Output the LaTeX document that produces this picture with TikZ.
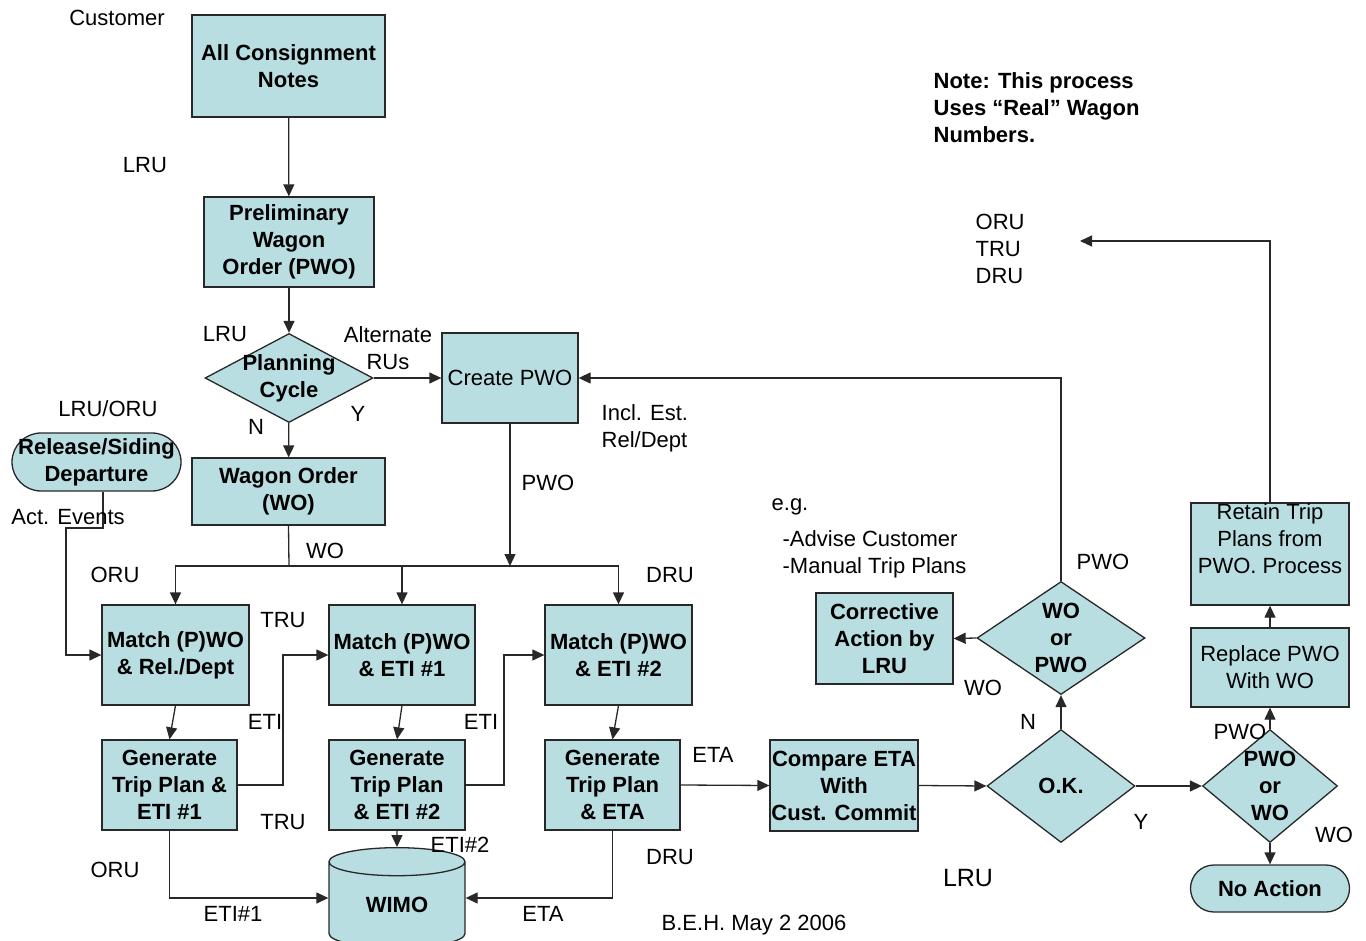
\documentclass[tikz,border=0pt]{standalone}
\usepackage{fontspec}
\setmainfont{Liberation Sans}
\usetikzlibrary{shapes.geometric,arrows.meta}
\definecolor{boxfill}{RGB}{184,222,225}
\definecolor{edge}{RGB}{40,40,40}
\newcommand\wfont{\fontsize{11}{13.5}\selectfont}
\tikzset{every picture/.style={line width=0.65pt}}
\tikzset{
  box/.style={draw=edge, fill=boxfill, align=center, inner sep=0pt, font=\wfont\bfseries},
  plainbox/.style={box, font=\wfont},
  endbox/.style={box, rounded corners=#1},
  decision/.style={draw=edge, fill=boxfill, diamond, inner sep=0pt},
  dtext/.style={align=center, inner sep=0pt, font=\wfont\bfseries},
  lbl/.style={inner sep=0pt, align=left, font=\wfont},
  flow/.style={draw=edge, -{Triangle[length=6pt,width=5.5pt]}},
  wire/.style={draw=edge}
}

\begin{document}
\begin{tikzpicture}[x=0.5pt,y=-0.5pt]
    \useasboundingbox (0,0) rectangle (1366,941);
    \node[box, minimum width=96.5pt, minimum height=51pt] (acn) at (288.5,66) {All Consignment\\Notes};
    \node[box, minimum width=85pt, minimum height=45pt] (pwo) at (289,242) {Preliminary\\Wagon\\Order (PWO)};
    \node[decision, minimum width=84pt, minimum height=44.5pt, label={[dtext]center:Planning\\Cycle}] (plan) at (289,378) {};
    \node[plainbox, minimum width=68pt, minimum height=45pt] (cpwo) at (510,378) {Create PWO};
    \node[box, minimum width=96.5pt, minimum height=33.5pt] (wo) at (288.5,491.5) {Wagon Order\\(WO)};
    \node[endbox=14.5pt, minimum width=84.5pt, minimum height=29pt] (rel) at (96.5,462) {Release/Siding\\Departure};
    \node[box, minimum width=73.5pt, minimum height=50pt] (m1) at (175.5,655) {Match (P)WO\\\& Rel./Dept};
    \node[box, minimum width=73pt, minimum height=50pt] (m2) at (402,655) {Match (P)WO\\\& ETI \#1};
    \node[box, minimum width=73.5pt, minimum height=50pt] (m3) at (618.5,655) {Match (P)WO\\\& ETI \#2};
    \node[box, minimum width=67.5pt, minimum height=45pt] (g1) at (169.5,785) {Generate\\Trip Plan \&\\ETI \#1};
    \node[box, minimum width=68pt, minimum height=45pt] (g2) at (397,785) {Generate\\Trip Plan\\\& ETI \#2};
    \node[box, minimum width=67.5pt, minimum height=45pt] (g3) at (612.5,785) {Generate\\Trip Plan\\\& ETA};
    \node[box, cylinder, shape border rotate=90, aspect=0.45, minimum width=68pt, minimum height=50pt] (wimo) at (397,905) {WIMO};
    \node[box, minimum width=74pt, minimum height=45.5pt] (cmp) at (844,785.5) {Compare ETA\\With\\Cust. Commit};
    \node[decision, minimum width=74pt, minimum height=56.5pt, label={[dtext]center:O.K.}] (ok) at (1061,786) {};
    \node[decision, minimum width=84pt, minimum height=56.5pt, label={[dtext]center:WO\\or\\PWO}] (wop) at (1061,638) {};
    \node[box, minimum width=68.5pt, minimum height=45.5pt] (corr) at (884.5,638.5) {Corrective\\Action by\\LRU};
    \node[decision, minimum width=67.5pt, minimum height=56.5pt, label={[dtext]center:PWO\\or\\WO}] (pow) at (1270,786) {};
    \node[plainbox, minimum width=79pt, minimum height=39.5pt] (rep) at (1270,667.5) {Replace PWO\\With WO};
    \node[plainbox, minimum width=79pt, minimum height=51pt, text depth=15pt] (ret) at (1270,554) {Retain Trip\\Plans from\\PWO. Process};
    \node[endbox=11.75pt, minimum width=79.5pt, minimum height=23.5pt] (noact) at (1270,888.5) {No Action};
    \coordinate (split) at (289,566);
    \coordinate (actbend) at (66,528);
    \coordinate (eti1) at (283,720);
    \coordinate (eti2) at (504,720);
    \coordinate (back) at (1080,241);
    \draw[flow] (acn) -- (pwo);
    \draw[flow] (pwo) -- (plan);
    \draw[flow] (plan) -- (wo);
    \draw[flow] (plan.east) -- (cpwo.west);
    \draw[wire] (wo.south) -- (split);
    \draw[flow] (split) -| (m1.north);
    \draw[flow] (split) -| (m3.north);
    \draw[flow] (m2.north |- split) -- (m2.north);
    \draw[flow] (cpwo.south) -- (cpwo.south |- split);
    \draw[flow] ([xshift=3.25pt]rel.south) |- (actbend) |- (m1.west);
    \draw[flow] (m1.south) -- (g1.north);
    \draw[flow] (m2.south) -- (g2.north);
    \draw[flow] (m3.south) -- (g3.north);
    \draw[flow] (g1.east) -| (eti1) |- (m2.west);
    \draw[flow] (g2.east) -| (eti2) |- (m3.west);
    \draw[flow] (g2.south) -- (wimo.north);
    \draw[flow] (g1.south) |- ([yshift=3.5pt]wimo.west);
    \draw[flow] (g3.south) |- ([yshift=3.5pt]wimo.east);
    \draw[flow] (g3.east) -- (cmp.west);
    \draw[flow] (cmp.east) -- (ok.west);
    \draw[flow] (ok.north) -- (wop.south);
    \draw[flow] (wop.west) -- (corr.east);
    \draw[flow] (wop.north) |- (cpwo.east);
    \draw[flow] (ok.east) -- (pow.west);
    \draw[flow] (pow.north) -- (rep.south);
    \draw[flow] (rep.north) -- (ret.south);
    \draw[flow] (ret.north) |- (back);
    \draw[flow] (pow.south) -- (noact.north);
    \node[lbl] (customer) at (117,18) {Customer};
    \node[lbl] (lru1) at (145,165) {LRU};
    \node[lbl] (lru2) at (225,334) {LRU};
    \node[lbl, align=center] (alt) at (388,348) {Alternate\\RUs};
    \node[lbl] (plan-n) at (256,427) {N};
    \node[lbl] (plan-y) at (358,414) {Y};
    \node[lbl] (lruoru) at (108,409) {LRU/ORU};
    \node[lbl] (act) at (68,517) {Act. Events};
    \node[lbl, anchor=west] (incl) at (601,428) {Incl. Est.\\Rel/Dept};
    \node[lbl] (pwo-l) at (548,483) {PWO};
    \node[lbl] (wo-l) at (325,551) {WO};
    \node[lbl] (oru1) at (115,575) {ORU};
    \node[lbl] (dru1) at (670,575) {DRU};
    \node[lbl] (tru1) at (283,620) {TRU};
    \node[lbl] (eti-a) at (265,722) {ETI};
    \node[lbl] (eti-b) at (481,722) {ETI};
    \node[lbl] (tru2) at (283,822) {TRU};
    \node[lbl] (eti2-l) at (460,845) {ETI\#2};
    \node[lbl] (oru2) at (115,870) {ORU};
    \node[lbl] (eti1-l) at (233,914) {ETI\#1};
    \node[lbl] (eta1) at (543,914) {ETA};
    \node[lbl] (dru2) at (670,857) {DRU};
    \node[lbl] (eta2) at (713,755) {ETA};
    \node[lbl] (wo-c) at (983,688) {WO};
    \node[lbl] (ok-n) at (1028,722) {N};
    \node[lbl] (pwo-c) at (1103,562) {PWO};
    \node[lbl] (ok-y) at (1141,822) {Y};
    \node[lbl] (pwo-r) at (1240,732) {PWO};
    \node[lbl] (wo-r) at (1334,835) {WO};
    \node[lbl, font=\fontsize{12.5}{15}\selectfont] (lru3) at (968,878) {LRU};
    \node[lbl] (beh) at (754,925) {B.E.H. May 2 2006};
    \node[lbl, anchor=west] (eg) at (771,507) {e.g.};
    \node[lbl, anchor=west] (advise) at (782,554) {-Advise Customer\\-Manual Trip Plans};
    \node[lbl, anchor=west] (units) at (975,249) {ORU\\TRU\\DRU};
    \node[lbl, anchor=west, font=\wfont\bfseries] (note) at (933,108) {Note: This process\\Uses “Real” Wagon\\Numbers.};
\end{tikzpicture}
\end{document}
